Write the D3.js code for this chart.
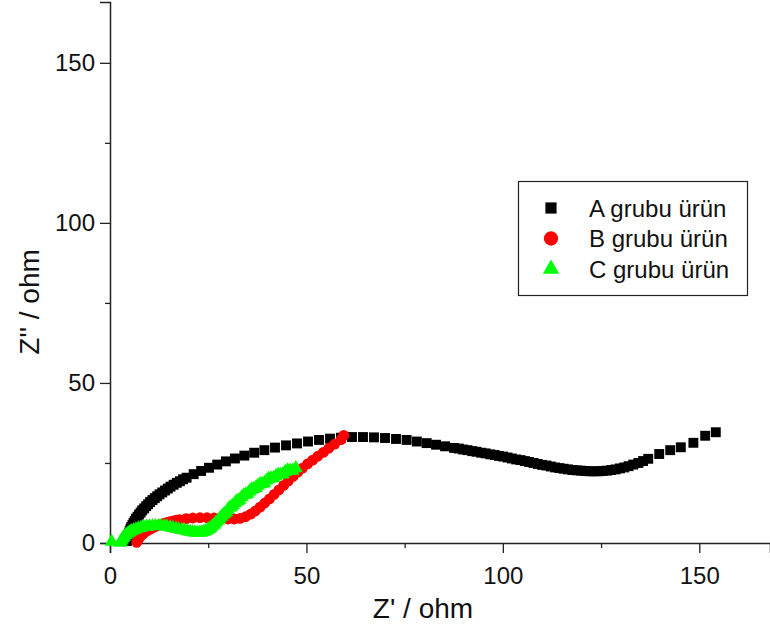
<!DOCTYPE html>
<html>
<head>
<meta charset="utf-8">
<script src="https://cdn.jsdelivr.net/npm/d3@7"></script>
<style>
  html, body { margin: 0; padding: 0; background: #fff; }
  svg { display: block; font-family: "Liberation Sans", Arial, sans-serif; }
</style>
</head>
<body>
<svg id="chart" width="770" height="634"></svg>
<script>
// Nyquist plot: Z' (real) vs Z'' (imaginary), in ohm
const seriesNames = ["A grubu ürün", "B grubu ürün", "C grubu ürün"];
const seriesColors = ["#000000", "#ff0000", "#00ff00"];

const zReA = [4.3,4.4,4.5,4.6,4.8,5.0,5.2,5.4,5.7,6.0,6.3,6.6,7.0,7.4,7.8,8.2,8.7,9.2,9.7,10.2,10.8,11.4,12.0,12.6,13.3,14.0,14.7,15.4,16.2,17.0,17.8,18.6,19.5,21.3,23.2,25.2,27.3,29.5,31.8,34.2,36.7,39.3,42.0,44.8,47.6,50.4,53.2,56.0,58.8,61.6,64.4,67.2,70.0,72.8,75.5,78.1,80.6,83.0,85.3,87.6,88.8,89.9,91.0,92.2,93.3,94.5,95.6,96.8,97.9,99.0,100.1,101.2,102.3,103.4,104.5,105.6,106.7,107.8,108.9,110.0,111.1,112.2,113.3,114.4,115.5,116.6,117.7,118.8,119.9,121.0,122.1,123.2,124.3,125.4,126.5,127.6,128.7,129.8,130.9,132.0,133.2,134.5,135.7,137.0,139.8,142.6,145.3,148.5,151.5,154.2];
const zImA = [0.6,1.2,1.8,2.4,3.0,3.7,4.3,5.0,5.6,6.3,6.9,7.6,8.2,8.9,9.5,10.2,10.8,11.5,12.1,12.8,13.4,14.0,14.6,15.2,15.8,16.4,17.0,17.6,18.2,18.8,19.3,19.9,20.4,21.5,22.5,23.5,24.5,25.5,26.4,27.3,28.2,29.0,29.8,30.5,31.1,31.7,32.2,32.6,32.9,33.1,33.1,33.0,32.8,32.5,32.2,31.7,31.2,30.7,30.2,29.7,29.5,29.2,29.0,28.7,28.5,28.2,28.0,27.7,27.5,27.2,27.0,26.7,26.4,26.1,25.9,25.6,25.3,25.0,24.7,24.4,24.2,23.9,23.6,23.4,23.2,23.0,22.8,22.7,22.6,22.5,22.4,22.4,22.4,22.5,22.6,22.8,23.0,23.3,23.6,24.0,24.5,25.0,25.6,26.3,27.8,29.0,29.9,31.3,33.5,34.6];

const zReB = [6.8,7.0,7.2,7.5,7.8,8.2,8.6,9.1,9.6,10.1,10.7,11.3,11.9,12.5,13.2,13.9,14.6,15.3,16.1,16.9,17.7,19.4,21.1,22.9,24.7,26.5,28.3,30.0,31.6,33.1,34.5,35.8,37.0,38.2,39.4,40.6,41.8,43.0,44.2,45.4,46.6,47.8,49.0,50.3,51.6,52.9,54.3,55.7,57.2,58.8,59.5];
const zImB = [0.2,0.7,1.2,1.7,2.2,2.7,3.1,3.5,3.9,4.3,4.6,5.0,5.3,5.6,5.9,6.2,6.4,6.7,6.9,7.1,7.3,7.6,7.8,7.9,7.9,7.8,7.6,7.5,7.5,7.7,8.2,9.0,10.0,11.2,12.5,13.8,15.2,16.6,18.0,19.4,20.8,22.1,23.4,24.7,25.9,27.1,28.3,29.6,30.9,32.3,33.6];

const zReC = [0.4,2.6,2.8,3.0,3.3,3.6,4.0,4.4,4.9,5.4,6.0,6.6,7.2,7.9,8.6,9.3,10.0,10.8,11.5,12.3,13.0,13.8,14.5,15.3,16.0,16.8,17.5,18.3,19.0,19.7,20.4,21.0,21.6,22.2,22.8,23.3,23.8,24.3,24.8,25.2,25.7,26.1,26.6,27.0,27.5,27.9,28.4,28.8,29.2,29.6,30.0,30.4,30.9,31.3,31.8,32.2,32.6,33.0,33.5,34.0,34.5,35.0,35.5,36.0,36.5,37.1,37.6,38.2,38.7,39.3,39.8,40.4,41.0,41.6,42.2,42.8,43.4,44.0,44.6,45.2,45.8,46.5,47.3];
const zImC = [0.4,0.1,0.5,1.0,1.5,2.0,2.5,2.9,3.3,3.7,4.0,4.3,4.6,4.8,5.0,5.1,5.2,5.3,5.3,5.3,5.3,5.2,5.1,4.9,4.7,4.5,4.3,4.1,3.9,3.7,3.5,3.4,3.3,3.2,3.2,3.3,3.5,3.7,4.0,4.4,4.8,5.3,5.8,6.4,7.0,7.6,8.2,8.8,9.2,9.6,10.4,11.0,11.3,11.8,12.5,13.0,13.2,13.5,14.3,14.9,15.1,15.4,16.1,16.7,16.9,17.2,17.9,18.4,18.5,18.7,19.5,20.1,20.2,20.3,20.9,21.4,21.4,21.5,22.2,22.7,22.6,22.6,23.4];

const xTicks = [0, 50, 100, 150];
const xMinorTicks = [25, 75, 125];
const yTicks = [0, 50, 100, 150];
const yMinorTicks = [25, 75, 125];
const xDomain = [0, 168];
const yDomain = [0, 169];

const series = [
  { name: seriesNames[0], color: seriesColors[0], shape: d3.symbolSquare, size: 98, legendSize: 125, xs: zReA, ys: zImA },
  { name: seriesNames[1], color: seriesColors[1], shape: d3.symbolCircle, size: 92, legendSize: 160, xs: zReB, ys: zImB },
  { name: seriesNames[2], color: seriesColors[2], shape: d3.symbolTriangle, size: 85, legendSize: 115, xs: zReC, ys: zImC }
];

const svg = d3.select("#chart");
const x = d3.scaleLinear().domain(xDomain).range([110, 770]);
const y = d3.scaleLinear().domain(yDomain).range([543, 2]);

// Axes: major ticks with labels, minor ticks without
const axisColor = "#222";
const gx = svg.append("g").attr("transform", "translate(0,543)");
gx.call(d3.axisBottom(x).tickValues(xTicks).tickSize(10).tickPadding(14).tickFormat(d3.format("d")));
gx.append("g").call(d3.axisBottom(x).tickValues(xMinorTicks).tickSize(5).tickFormat(""))
  .select(".domain").remove();

const gy = svg.append("g").attr("transform", "translate(110,0)");
gy.call(d3.axisLeft(y).tickValues(yTicks).tickSize(10).tickPadding(5).tickFormat(d3.format("d")));
gy.append("g").call(d3.axisLeft(y).tickValues(yMinorTicks).tickSize(5).tickFormat(""))
  .select(".domain").remove();

svg.selectAll(".domain").attr("stroke", axisColor).attr("stroke-width", 1.5);
svg.selectAll(".tick line").attr("stroke", axisColor).attr("stroke-width", 1.3);
svg.selectAll(".tick text")
  .attr("font-family", "Liberation Sans, Arial, sans-serif")
  .attr("font-size", 24).attr("fill", "#111");

// Axis titles
svg.append("text")
  .attr("x", 423).attr("y", 618)
  .attr("text-anchor", "middle")
  .attr("font-size", 28).attr("fill", "#111")
  .text("Z' / ohm");
svg.append("text")
  .attr("transform", "translate(39,302) rotate(-90)")
  .attr("text-anchor", "middle")
  .attr("font-size", 28).attr("fill", "#111")
  .text("Z'' / ohm");

// Data markers
const plot = svg.append("g");
series.forEach(s => {
  const pts = s.xs.map((v, i) => [v, s.ys[i]]);
  plot.append("g").selectAll("path")
    .data(pts)
    .join("path")
    .attr("transform", d => `translate(${x(d[0])},${y(d[1])})`)
    .attr("d", d3.symbol().type(s.shape).size(s.size))
    .attr("fill", s.color);
});

// Legend
const legend = svg.append("g");
legend.append("rect")
  .attr("x", 518.5).attr("y", 181.5).attr("width", 229).attr("height", 114)
  .attr("fill", "#fff").attr("stroke", "#222").attr("stroke-width", 1.2);
series.forEach((s, i) => {
  const cy = 208 + i * 30.5;
  legend.append("path")
    .attr("transform", `translate(551,${cy})`)
    .attr("d", d3.symbol().type(s.shape).size(s.legendSize))
    .attr("fill", s.color);
  legend.append("text")
    .attr("x", 589).attr("y", cy + 8.5)
    .attr("font-size", 24).attr("fill", "#111")
    .text(s.name);
});
</script>
</body>
</html>
